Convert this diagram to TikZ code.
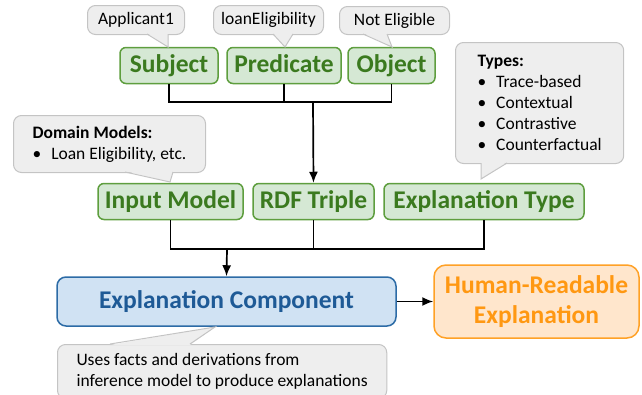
\documentclass[tikz,border=0pt]{standalone}
\usepackage{fontspec}
\setmainfont{Carlito}
\usetikzlibrary{arrows.meta,positioning}

\definecolor{greenfill}{HTML}{D5E8D4}
\definecolor{greendraw}{HTML}{5E9E3E}
\definecolor{greentext}{HTML}{3B7A1F}
\definecolor{bluefill}{HTML}{D0E2F3}
\definecolor{bluedraw}{HTML}{2C6BA6}
\definecolor{bluetext}{HTML}{1E5A96}
\definecolor{orangefill}{HTML}{FFE6CC}
\definecolor{orangedraw}{HTML}{FFA126}
\definecolor{orangetext}{HTML}{FF9812}
\definecolor{notefill}{HTML}{EEEEEE}
\definecolor{notedraw}{HTML}{C4C4C4}

\tikzset{
  part/.style={draw=greendraw,fill=greenfill,text=greentext,line width=1.5pt,
    rounded corners=6pt,inner sep=0pt,minimum height=36pt,
    text height=17pt,text depth=4pt,
    font=\fontsize{25.5}{28}\selectfont\bfseries},
  note/.style={draw=notedraw,fill=notefill,line width=1pt,rounded corners=8pt,
    anchor=north west,align=left,inner ysep=0pt,
    font=\fontsize{17.5}{21}\selectfont},
  link/.style={line width=1.7pt},
  arr/.style={line width=1.7pt,-{Latex[length=11pt,width=9pt]}}
}

\begin{document}
\begin{tikzpicture}[x=1pt,y=-1pt]
\useasboundingbox (0,0) rectangle (642,394);

% triple parts
\node[part,minimum width=98pt] (subj) at (169,65.5) {Subject};
\node[part,minimum width=114pt] (pred) at (284,65.5) {Predicate};
\node[part,minimum width=87pt] (obj) at (391.5,65.5) {Object};

% inputs
\node[part,minimum width=145pt] (inp) at (170.5,201.5) {Input Model};
\node[part,minimum width=121pt] (rdf) at (313.5,201.5) {RDF Triple};
\node[part,minimum width=200pt] (ext) at (484,201.5) {Explanation Type};

\node[draw=bluedraw,fill=bluefill,text=bluetext,line width=1.5pt,rounded corners=9pt,
  minimum width=339pt,minimum height=49pt,inner sep=0pt,
  font=\fontsize{25.5}{28}\selectfont\bfseries] (ec) at (226.5,301.5) {Explanation Component};
\node[draw=orangedraw,fill=orangefill,text=orangetext,line width=1.5pt,rounded corners=12pt,
  minimum width=205pt,minimum height=73pt,inner sep=0pt,align=center,
  font=\fontsize{25.5}{30}\selectfont\bfseries] (hr) at (536.5,301.5) {Human-Readable\\Explanation};

% notes
\node[note,minimum width=97pt,minimum height=29pt,inner xsep=5pt] (appl) at (87,5) {Applicant1};
\node[note,minimum width=110pt,minimum height=29pt,inner xsep=6pt] (loan) at (213,5) {loanEligibility};
\node[note,minimum width=110pt,minimum height=28pt,inner xsep=7pt] (nelig) at (339,6) {Not Eligible};
\node[note,minimum width=192pt,minimum height=57pt,inner xsep=18pt] (dom) at (13,115)
  {\textbf{Domain Models:}\\\textbullet\hspace{10pt}Loan Eligibility, etc.};
\node[note,minimum width=162pt,minimum height=121pt,inner xsep=22pt] (typ) at (455,42)
  {\textbf{Types:}\\\textbullet\hspace{10pt}Trace-based\\\textbullet\hspace{10pt}Contextual\\
   \textbullet\hspace{10pt}Contrastive\\\textbullet\hspace{10pt}Counterfactual};
\node[note,minimum width=318pt,minimum height=54pt,inner xsep=19pt] (uses) at (57,344)
  {Uses facts and derivations from\\inference model to produce explanations};

% note tails
\fill[notefill] (147,33) -- (168,47) -- (168,33) -- cycle;
\draw[notedraw,line width=1pt] (147,34) -- (168,47) -- (168,34);
\fill[notefill] (273,33) -- (285,47) -- (293,33) -- cycle;
\draw[notedraw,line width=1pt] (273,34) -- (285,47) -- (293,34);
\fill[notefill] (363,33) -- (392,47) -- (387,33) -- cycle;
\draw[notedraw,line width=1pt] (363,34) -- (392,47) -- (387,34);
\fill[notefill] (125,171) -- (170,182) -- (173,171) -- cycle;
\draw[notedraw,line width=1pt] (125,172) -- (170,182) -- (173,172);
\fill[notefill] (481,162) -- (481,179) -- (507,162) -- cycle;
\draw[notedraw,line width=1pt] (481,163) -- (481,179) -- (507,163);
\fill[notefill] (110,345) -- (215,327) -- (190,345) -- cycle;
\draw[notedraw,line width=1pt] (110,344) -- (215,327) -- (190,344);

% connectors
\coordinate (j1) at (313,102);
\coordinate (j2) at (227,249);
\draw[link] (subj.south) |- (j1) -| (obj.south);
\draw[link] (pred.south) -- (pred.south |- j1);
\draw[arr] (j1) -- (rdf.north);
\draw[link] (inp.south) |- (j2) -| (ext.south);
\draw[link] (rdf.south) -- (rdf.south |- j2);
\draw[arr] (j2) -- (ec.north);
\draw[arr] (ec.east) -- (hr.west);
\end{tikzpicture}
\end{document}
